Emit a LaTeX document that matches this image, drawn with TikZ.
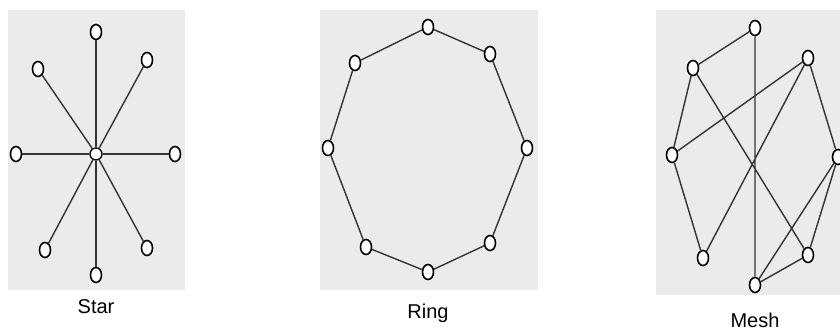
\documentclass[tikz,border=0pt]{standalone}
\usepackage{fontspec}
\setmainfont{Liberation Sans}
\usetikzlibrary{shapes.geometric}
\definecolor{panel}{HTML}{EBEBEB}
\definecolor{wire}{HTML}{333333}
\tikzset{
  vtx/.style={ellipse,draw=black,line width=1.6pt,fill=white,minimum width=11pt,minimum height=15pt,inner sep=0pt},
  hub/.style={circle,draw=black,line width=1.3pt,fill=white,minimum size=12pt,inner sep=0pt},
  link/.style={draw=wire,line width=1.4pt},
  panelbox/.style={fill=panel,draw=none},
  caption/.style={font=\fontsize{20}{24}\selectfont}
}
\begin{document}
\begin{tikzpicture}[x=1pt,y=-1pt]
\useasboundingbox[fill=white] (0,0) rectangle (840,331);
% panels
\path[panelbox] (8,10) rectangle (185,290);
\path[panelbox] (320,10) rectangle (538,290);
\path[panelbox] (656,10) rectangle (840,295);
% Star
\node[vtx] (s1) at (96,32) {};
\node[vtx] (s2) at (147,60) {};
\node[vtx] (s3) at (175,154) {};
\node[vtx] (s4) at (147,248) {};
\node[vtx] (s5) at (96,275) {};
\node[vtx] (s6) at (45,250) {};
\node[vtx] (s7) at (16,154) {};
\node[vtx] (s8) at (38,69) {};
\node[hub] (sc) at (96,154) {};
\foreach \n in {s1,s2,s3,s4,s5,s6,s7,s8} \draw[link] (sc) -- (\n);
\node[caption] (tstar) at (96,307) {Star};
% Ring
\node[vtx] (r1) at (428,27) {};
\node[vtx] (r2) at (490,54) {};
\node[vtx] (r3) at (527,148) {};
\node[vtx] (r4) at (490,243) {};
\node[vtx] (r5) at (428,272) {};
\node[vtx] (r6) at (366,247) {};
\node[vtx] (r7) at (328,148) {};
\node[vtx] (r8) at (355,63) {};
\draw[link] (r1)--(r2) (r2)--(r3) (r3)--(r4) (r4)--(r5) (r5)--(r6) (r6)--(r7) (r7)--(r8) (r8)--(r1);
\node[caption] (tring) at (428,313) {Ring};
% Mesh
\node[vtx] (m1) at (755,28) {};
\node[vtx] (m2) at (808,58) {};
\node[vtx] (m3) at (838,157) {};
\node[vtx] (m4) at (808,255) {};
\node[vtx] (m5) at (755,285) {};
\node[vtx] (m6) at (703,258) {};
\node[vtx] (m7) at (672,155) {};
\node[vtx] (m8) at (693,68) {};
\draw[link] (m1)--(m8) (m1)--(m5) (m8)--(m7) (m8)--(m4) (m2)--(m7) (m2)--(m6) (m2)--(m3) (m7)--(m6) (m3)--(m4) (m3)--(m5) (m4)--(m5);
\node[caption] (tmesh) at (755,320) {Mesh};
\end{tikzpicture}
\end{document}
